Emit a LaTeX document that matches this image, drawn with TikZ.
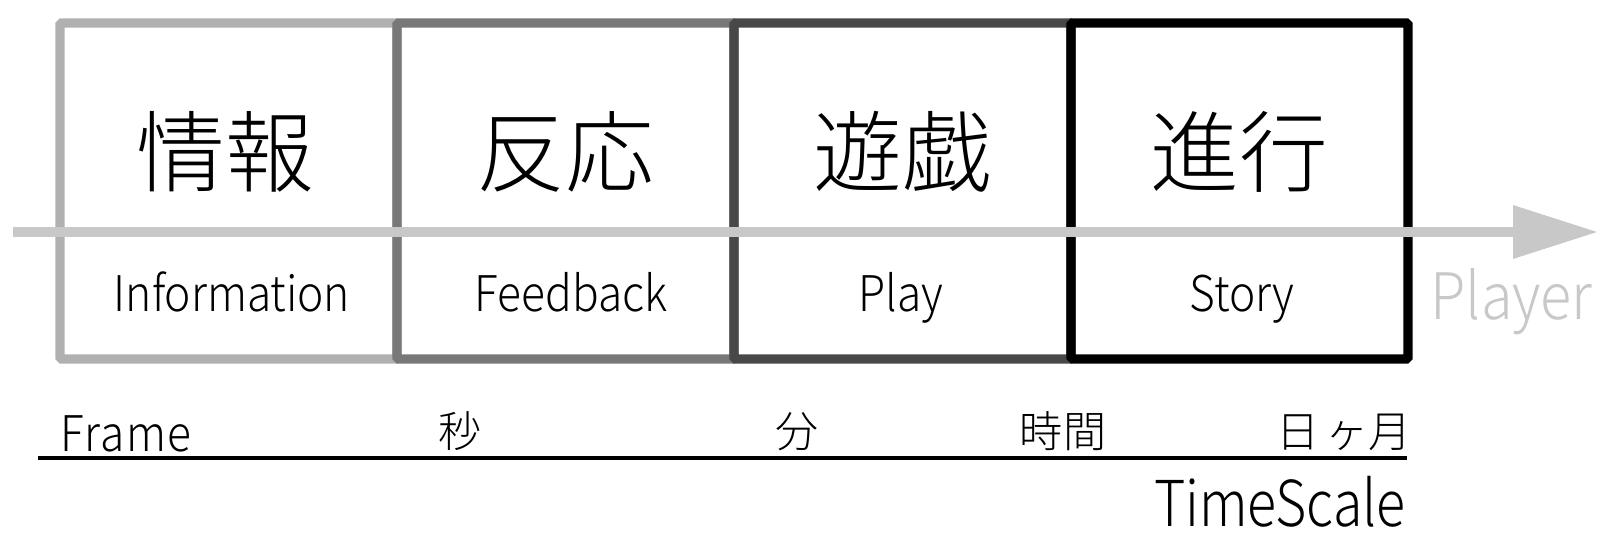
\documentclass[tikz,border=0pt]{standalone}
\usepackage{fontspec}
\IfFontExistsTF{Noto Sans CJK JP Light}{%
	\setmainfont{Noto Sans CJK JP Light}
	\newfontfamily\slimfont[FakeStretch=0.9]{Noto Sans CJK JP Light}
	\newfontfamily\tallfont[FakeStretch=0.85]{Noto Sans CJK JP Light}}{%
	\setmainfont{Noto Sans CJK JP}
	\newfontfamily\slimfont[FakeStretch=0.9]{Noto Sans CJK JP}
	\newfontfamily\tallfont[FakeStretch=0.85]{Noto Sans CJK JP}}
\usetikzlibrary{shapes,arrows.meta}
\definecolor{lv1}{HTML}{B0B0B0}
\definecolor{lv2}{HTML}{787878}
\definecolor{lv3}{HTML}{484848}
\definecolor{flow}{HTML}{C8C8C8}

\begin{document}
\begin{tikzpicture}[x=0.02cm, y=-0.02cm,
		stage/.style={rectangle, draw, line width=5.3pt, minimum width=6.74cm, minimum height=6.72cm, inner sep=0pt, rounded corners=1pt},
		big/.style={anchor=base, font=\fontsize{50.5}{50.5}\selectfont},
		small/.style={anchor=base, font=\slimfont\fontsize{28}{28}\selectfont},
		tick/.style={anchor=base, font=\fontsize{24.5}{24.5}\selectfont}]
		\useasboundingbox (0, 0) rectangle (1600, 536);
		\path (228.5, 191) node(info) [stage, draw=lv1] {};
		\path (565.5, 191) node(fb) [stage, draw=lv2] {};
		\path (902.5, 191) node(play) [stage, draw=lv3] {};
		\path (1239.5, 191) node(story) [stage, draw=black] {};
		\path (225, 186) node(infoj) [big] {情報};
		\path (565, 186) node(fbj) [big] {反応};
		\path (902, 186) node(playj) [big] {遊戯};
		\path (1239, 186) node(storyj) [big] {進行};
		\path (232, 312) node(infoe) [small] {Information};
		\path (571, 312) node(fbe) [small] {Feedback};
		\path (901, 312) node(playe) [small] {Play};
		\path (1242, 312) node(storye) [small] {Story};
		\coordinate (from) at (13, 232);
		\coordinate (to) at (1598, 232);
		\draw [line width=5.7pt, flow, -{Triangle[length=1.7cm, width=1.02cm]}] (from) to (to);
		\path (1430, 320) node(pl) [anchor=base west, inner sep=0pt, text=flow, font=\slimfont\fontsize{36.5}{36.5}\selectfont] {Player};
		\coordinate (t0) at (38, 458);
		\coordinate (t1) at (1407, 458);
		\draw [line width=2pt] (t0) to (t1);
		\path (60, 452) node(fr) [small, anchor=base west, inner sep=0pt, font=\slimfont\addfontfeature{LetterSpace=3}\fontsize{28}{28}\selectfont] {Frame};
		\path (460, 448) node(sec) [tick] {秒};
		\path (797, 448) node(min) [tick] {分};
		\path (1063, 448) node(hr) [tick] {時間};
		\path (1412, 448) node(day) [tick, anchor=base east, inner sep=0pt] {日\hspace{3.7pt}ヶ月};
		\path (1406, 527) node(ts) [anchor=base east, inner sep=0pt, font=\tallfont\fontsize{36}{36}\selectfont] {TimeScale};
	\end{tikzpicture}
\end{document}
